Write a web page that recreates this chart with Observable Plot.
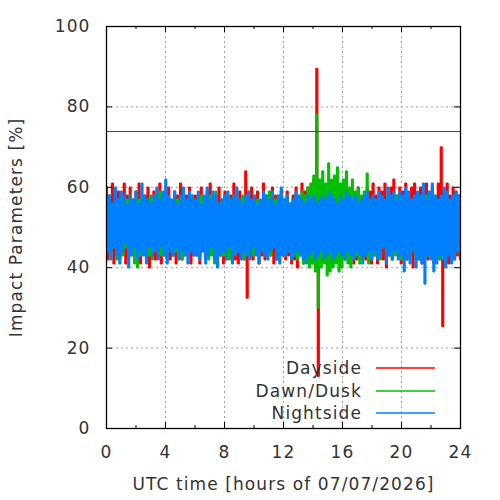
<!DOCTYPE html>
<html>
<head>
<meta charset="utf-8">
<script src="https://cdn.jsdelivr.net/npm/d3@7"></script>
<script src="https://cdn.jsdelivr.net/npm/@observablehq/plot@0.6"></script>
<style>
  html, body { margin: 0; padding: 0; background: white; }
  #chart { width: 500px; height: 500px; }
  #chart text { letter-spacing: 1.1px; }
</style>
</head>
<body>
<div id="chart"></div>
<script>
// ---- data (120 samples per series, high/low pairs) ----
const seriesNames = ["Dayside", "Dawn/Dusk", "Nightside"];
const seriesColors = ["#ff0000", "#00c000", "#0080ff"];

const daysideHi = [
  60,58,61,57,59,56,61,58,60,57,59,61,56,58,60,57,59,56,61,58,57,60,56,59,58,61,57,58,60,56,
  58,56,60,57,59,61,56,58,60,57,59,56,58,61,57,59,56,64,58,60,57,59,56,61,58,57,60,58,56,59,
  57,59,56,58,60,57,61,59,60,58,62,89.5,61,60,59,58,57,59,58,56,58,60,57,59,58,60,57,58,60,59,
  61,58,60,59,61,57,60,62,58,60,59,61,58,60,61,57,60,59,61,58,60,57,61,70,59,61,58,60,59,58
];
const daysideLo = [
  42,44,41,43,42,45,41,43,44,42,43,41,44,42,40,43,42,44,41,43,44,42,43,41,44,42,43,44,41,43,
  43,41,44,42,43,45,42,44,43,41,42,43,44,42,41,43,42,32.5,43,42,44,41,43,42,44,43,41,42,43,44,
  42,43,41,42,40,43,41,42,43,41,42,13,41,43,42,44,43,42,41,43,42,44,43,41,42,43,44,42,43,41,
  43,41,44,42,40,43,42,45,43,41,44,42,43,40,44,42,41,43,42,44,41,43,42,25.4,43,41,44,42,43,42
];
const dawnHi = [
  57,58,56,59,57,58,56,57,58,56,59,57,58,56,57,58,57,56,59,57,58,56,57,58,57,56,58,57,56,58,
  57,56,58,57,56,58,57,59,56,57,58,56,57,58,56,57,58,57,59,56,58,57,56,58,57,59,56,57,58,57,
  57,58,56,57,58,57,59,58,60,61,63,78,62,64,61,66,62,63,65,61,62,64,60,62,59,60,58,59,63.5,57,
  57,56,58,57,56,58,57,56,58,57,56,57,58,56,57,58,56,57,58,56,57,58,56,57,58,57,56,58,57,56
];
const dawnLo = [
  44,43,45,42,44,43,45,44,43,41,40,43,44,45,43,42,44,45,43,44,42,45,43,44,43,42,44,43,45,44,
  44,43,45,44,42,43,41,44,45,43,44,42,43,45,44,43,42,44,45,43,44,42,45,43,44,43,45,42,44,43,
  43,44,42,43,42,44,41,42,40,41,39,30,40,41,38,39,40,41,39,40,42,41,40,42,43,41,42,43,41,42,
  43,44,42,45,43,44,42,43,44,42,43,45,43,44,42,43,44,42,43,44,45,43,42,44,43,44,42,43,44,43
];
const nightHi = [
  57,58,56,60,57,59,58,56,58,57,59,56,61,58,57,56,58,60,57,59,62,58,57,59,56,58,60,57,59,58,
  57,59,56,58,60,57,59,58,56,57,58,59,57,58,60,57,56,58,59,57,58,56,57,59,58,57,59,56,58,60,
  57,58,56,57,59,58,57,56,58,57,58,56,57,58,57,59,58,57,56,58,57,59,58,57,58,56,57,58,59,57,
  58,57,59,58,57,60,58,59,57,59,58,60,59,57,58,59,58,61,57,59,61,58,57,58,60,59,57,58,59,58
];
const nightLo = [
  44,42,45,43,41,44,46,40,43,45,42,44,43,41,45,43,44,42,45,43,41,44,43,45,42,44,43,41,44,43,
  43,42,44,41,43,45,42,40,43,44,42,45,41,43,44,42,44,43,42,45,43,41,44,43,42,44,45,42,41,43,
  43,44,42,43,44,43,42,41,43,44,42,43,44,42,43,44,42,43,44,43,42,44,43,42,44,43,41,43,44,42,
  44,42,43,45,41,43,42,44,42,43,39,42,41,44,40,42,41,36,43,42,39,41,43,42,40,43,41,42,44,43
];
const thresholdValue = [74];
const xTicks = [0, 4, 8, 12, 16, 20, 24];
const xMinorTicks = [2, 6, 10, 14, 18, 22];
const xGrid = [4, 8, 12, 16, 20];
const yTicks = [0, 20, 40, 60, 80, 100];
const yGrid = [20, 40, 60, 80];
const xTitle = "UTC time [hours of 07/07/2026]";
const yTitle = "Impact Parameters [%]";

// ---- build the table ----
function buildSeries(name, hi, lo) {
  const n = hi.length, total = 2 * n - 1, pts = [];
  for (let i = 0; i < n; i++) {
    pts.push({t: (2 * i) * 24 / total, v: hi[i], s: name});
    pts.push({t: (2 * i + 1) * 24 / total, v: lo[i], s: name});
  }
  return pts;
}
const data = [
  ...buildSeries(seriesNames[0], daysideHi, daysideLo),
  ...buildSeries(seriesNames[1], dawnHi, dawnLo),
  ...buildSeries(seriesNames[2], nightHi, nightLo)
];

const W = 500, H = 500, mL = 106, mR = 40, mT = 26, mB = 72;
const fw = W - mL - mR, fh = H - mT - mB;
const grid = {stroke: "#a0a0a0", strokeWidth: 1, strokeDasharray: "2,3", strokeOpacity: 1};
const fontFam = "DejaVu Sans, Verdana, sans-serif";

const plot = Plot.plot({
  width: W, height: H,
  marginLeft: mL, marginRight: mR, marginTop: mT, marginBottom: mB,
  style: {fontFamily: fontFam, fontSize: "17px", color: "#333", background: "white"},
  x: {domain: [0, 24]},
  y: {domain: [0, 100]},
  color: {domain: seriesNames, range: seriesColors},
  marks: [
    Plot.ruleX(xGrid, {...grid}),
    Plot.ruleY(yGrid, {...grid}),
    Plot.line(data, {x: "t", y: "v", stroke: "s", z: "s", curve: "step", strokeWidth: 1.7, strokeLinejoin: "miter", strokeLinecap: "butt"}),
    Plot.ruleY(thresholdValue, {stroke: "#9400d3", strokeWidth: 1, dy: 0.5}),
    // inward ticks
    Plot.tickX(xTicks, {stroke: "black", strokeWidth: 1, insetTop: fh - 6}),
    Plot.tickX(xTicks, {stroke: "black", strokeWidth: 1, insetBottom: fh - 6}),
    Plot.tickX(xMinorTicks, {stroke: "black", strokeWidth: 1, insetTop: fh - 3}),
    Plot.tickX(xMinorTicks, {stroke: "black", strokeWidth: 1, insetBottom: fh - 3}),
    Plot.tickY(yTicks, {stroke: "black", strokeWidth: 1, insetRight: fw - 6}),
    Plot.tickY(yTicks, {stroke: "black", strokeWidth: 1, insetLeft: fw - 6}),
    Plot.frame({stroke: "black", strokeWidth: 1.3}),
    Plot.axisX(xTicks, {tickSize: 0, tickPadding: 17, fontSize: 17, label: null}),
    Plot.axisY(yTicks, {tickSize: 0, tickPadding: 16, fontSize: 17, label: null}),
    Plot.text([xTitle], {frameAnchor: "bottom", lineAnchor: "middle", textAnchor: "middle", dy: 56, fontSize: 17, fill: "#333"}),
    Plot.text([yTitle], {frameAnchor: "left", lineAnchor: "middle", textAnchor: "middle", dx: -90, rotate: -90, fontSize: 17, fill: "#333"})
  ]
});

// legend inside the plot, bottom right
const svg = d3.select(plot);
const lg = svg.append("g").attr("font-family", fontFam).attr("font-size", 17).attr("fill", "#333");
const legendY = [368, 391, 413];
seriesNames.forEach((name, i) => {
  lg.append("text").attr("x", 362).attr("y", legendY[i]).attr("dy", "0.35em")
    .attr("text-anchor", "end").text(name);
  lg.append("line").attr("x1", 376).attr("x2", 435).attr("y1", legendY[i]).attr("y2", legendY[i])
    .attr("stroke", seriesColors[i]).attr("stroke-width", 1.5);
});

document.getElementById("chart").appendChild(plot);
</script>
</body>
</html>
